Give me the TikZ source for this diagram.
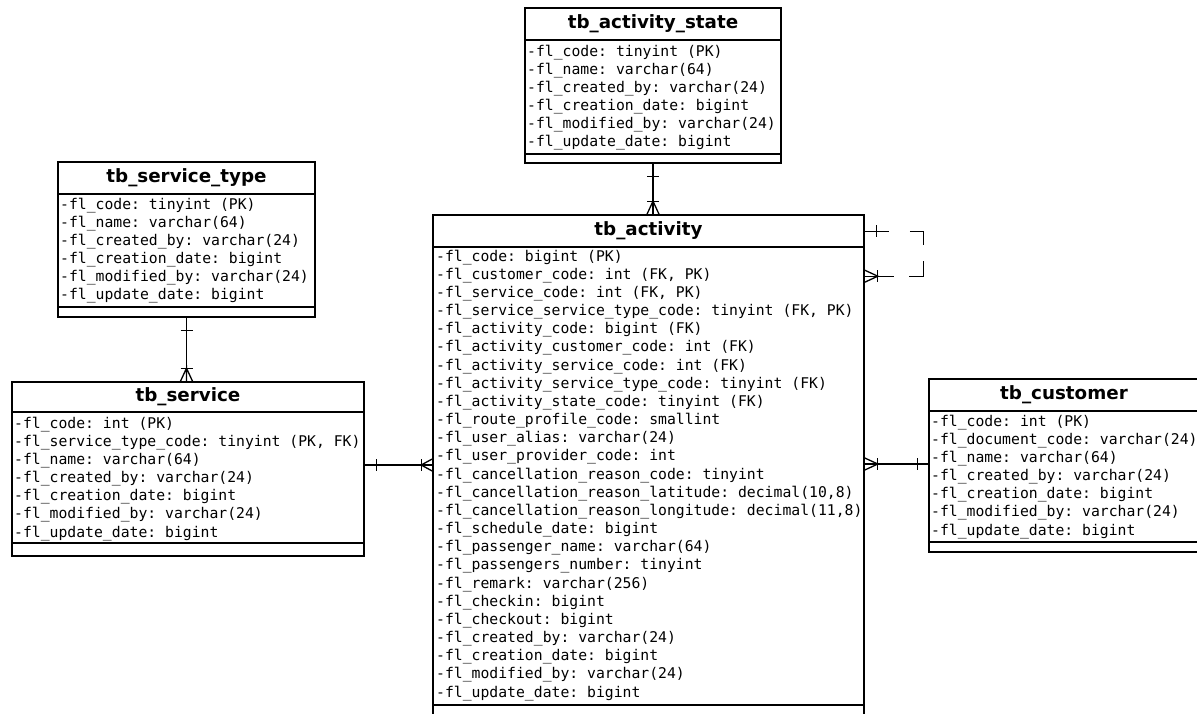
\documentclass[tikz,border=0pt]{standalone}
\usepackage{fontspec}
\setsansfont{DejaVu Sans}
\setmonofont{DejaVu Sans Mono}
\usepackage{tikz}

\tikzset{
  tbl/.style={draw, line width=1.6pt, inner sep=0pt, rectangle},
  tbltitle/.style={font=\fontsize{18.3}{20}\sffamily\bfseries, inner sep=0pt},
  col/.style={anchor=west, inner sep=0pt, text height=9.5pt, text depth=3.5pt,
    font=\fontsize{14.75}{18}\ttfamily},
  sepline/.style={line width=1.6pt},
  rel/.style={line width=1.3pt},
}

\begin{document}
\begin{tikzpicture}[x=1pt,y=-1pt]
    \useasboundingbox (0,0) rectangle (1197,713);
    \fill[white] (0,0) rectangle (1197,713);
    \clip (0,0) rectangle (1197,713);

    % tb_activity_state
    \node [tbl, minimum width=256pt, minimum height=155pt] (state) at (653,85.5) {};
    \node [tbltitle] at (653,24) {tb\_activity\_state};
    \draw [sepline] (525,40) -- (781,40) (525,154) -- (781,154);
    \foreach \r [count=\i from 0] in {{-fl\_code: tinyint (PK)}, {-fl\_name: varchar(64)},
        {-fl\_created\_by: varchar(24)}, {-fl\_creation\_date: bigint},
        {-fl\_modified\_by: varchar(24)}, {-fl\_update\_date: bigint}}
        \node [col] at (527,53+18.1*\i) {\r};

    % tb_service_type
    \node [tbl, minimum width=257pt, minimum height=155pt] (stype) at (186.5,239.5) {};
    \node [tbltitle] at (186.5,178) {tb\_service\_type};
    \draw [sepline] (58,194) -- (315,194) (58,307) -- (315,307);
    \foreach \r [count=\i from 0] in {{-fl\_code: tinyint (PK)}, {-fl\_name: varchar(64)},
        {-fl\_created\_by: varchar(24)}, {-fl\_creation\_date: bigint},
        {-fl\_modified\_by: varchar(24)}, {-fl\_update\_date: bigint}}
        \node [col] at (60,206+18.1*\i) {\r};

    % tb_service
    \node [tbl, minimum width=352pt, minimum height=174pt] (svc) at (188,469) {};
    \node [tbltitle] at (188,397) {tb\_service};
    \draw [sepline] (12,412) -- (364,412) (12,543) -- (364,543);
    \foreach \r [count=\i from 0] in {{-fl\_code: int (PK)}, {-fl\_service\_type\_code: tinyint (PK, FK)},
        {-fl\_name: varchar(64)}, {-fl\_created\_by: varchar(24)}, {-fl\_creation\_date: bigint},
        {-fl\_modified\_by: varchar(24)}, {-fl\_update\_date: bigint}}
        \node [col] at (14,425+18.17*\i) {\r};

    % tb_activity
    \node [tbl, minimum width=431pt, minimum height=507pt] (act) at (648.5,468.5) {};
    \node [tbltitle] at (648.5,231) {tb\_activity};
    \draw [sepline] (433,247) -- (864,247) (433,705) -- (864,705);
    \foreach \r [count=\i from 0] in {{-fl\_code: bigint (PK)}, {-fl\_customer\_code: int (FK, PK)},
        {-fl\_service\_code: int (FK, PK)}, {-fl\_service\_service\_type\_code: tinyint (FK, PK)},
        {-fl\_activity\_code: bigint (FK)}, {-fl\_activity\_customer\_code: int (FK)},
        {-fl\_activity\_service\_code: int (FK)}, {-fl\_activity\_service\_type\_code: tinyint (FK)},
        {-fl\_activity\_state\_code: tinyint (FK)}, {-fl\_route\_profile\_code: smallint},
        {-fl\_user\_alias: varchar(24)}, {-fl\_user\_provider\_code: int},
        {-fl\_cancellation\_reason\_code: tinyint}, {-fl\_cancellation\_reason\_latitude: decimal(10,8)},
        {-fl\_cancellation\_reason\_longitude: decimal(11,8)}, {-fl\_schedule\_date: bigint},
        {-fl\_passenger\_name: varchar(64)}, {-fl\_passengers\_number: tinyint},
        {-fl\_remark: varchar(256)}, {-fl\_checkin: bigint}, {-fl\_checkout: bigint},
        {-fl\_created\_by: varchar(24)}, {-fl\_creation\_date: bigint},
        {-fl\_modified\_by: varchar(24)}, {-fl\_update\_date: bigint}}
        \node [col] at (436,258+18.17*\i) {\r};

    % tb_customer
    \node [tbl, minimum width=276pt, minimum height=173pt] (cust) at (1067,465.5) {};
    \node [tbltitle] at (1064,395) {tb\_customer};
    \draw [sepline] (929,411) -- (1205,411) (929,542) -- (1205,542);
    \foreach \r [count=\i from 0] in {{-fl\_code: int (PK)}, {-fl\_document\_code: varchar(24)},
        {-fl\_name: varchar(64)}, {-fl\_created\_by: varchar(24)}, {-fl\_creation\_date: bigint},
        {-fl\_modified\_by: varchar(24)}, {-fl\_update\_date: bigint}}
        \node [col] at (931,423+18.17*\i) {\r};

    % relations
    \coordinate (a1) at (state.south |- act.north);
    \draw [rel] (state.south) -- (a1);
    \draw [rel] (state.south) ++(-6,13) -- ++(12,0);
    \draw [rel] (a1) ++(-6,-13) -- ++(12,0);
    \draw [rel] (a1) ++(-6,0) -- ++(6,-13) -- ++(0,13) ++(0,-13) -- ++(6,13);

    \coordinate (s1) at (stype.south |- svc.north);
    \draw [rel] (stype.south) -- (s1);
    \draw [rel] (stype.south) ++(-6,13) -- ++(12,0);
    \draw [rel] (s1) ++(-6,-13) -- ++(12,0);
    \draw [rel] (s1) ++(-6,0) -- ++(6,-13) -- ++(0,13) ++(0,-13) -- ++(6,13);

    \coordinate (v1) at (svc.east |- 0,465);
    \coordinate (v2) at (act.west |- v1);
    \draw [rel] (v1) -- (v2);
    \draw [rel] (v1) ++(12,-6) -- ++(0,12);
    \draw [rel] (v2) ++(-11,-6) -- ++(0,12);
    \draw [rel] (v2) ++(0,-6) -- ++(-11,6) -- ++(11,0) ++(-11,0) -- ++(11,6);

    \coordinate (c1) at (cust.west |- 0,464);
    \coordinate (c2) at (act.east |- c1);
    \draw [rel] (c1) -- (c2);
    \draw [rel] (c1) ++(-11,-6) -- ++(0,12);
    \draw [rel] (c2) ++(13,-6) -- ++(0,12);
    \draw [rel] (c2) ++(0,-6) -- ++(13,6) -- ++(-13,0) ++(13,0) -- ++(-13,6);

    % self relation
    \draw [rel] (act.north east) ++(0,17) -- ++(24,0);
    \draw [rel] (act.north east) ++(12,11) -- ++(0,12);
    \draw [rel] (act.north east) ++(45,17) -- ++(14,0) -- ++(0,14);
    \draw [rel] (act.north east) ++(59,47) -- ++(0,15) -- ++(-15,0);
    \draw [rel] (act.north east) ++(0,62) -- ++(29,0);
    \draw [rel] (act.north east) ++(13,56) -- ++(0,12);
    \draw [rel] (act.north east) ++(0,56) -- ++(13,6) -- ++(-13,6);
\end{tikzpicture}
\end{document}
